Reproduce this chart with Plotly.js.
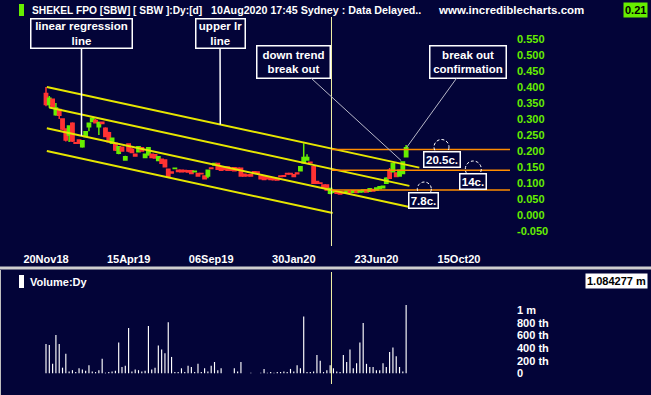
<!DOCTYPE html>
<html><head><meta charset="utf-8">
<script src="https://cdn.plot.ly/plotly-3.0.1.min.js"></script>
<style>html,body{margin:0;padding:0;background:#030438;}#chart{width:651px;height:395px;}</style>
</head><body><div id="chart"></div>
<script>
// ---- data ----
const dateTicks = [0, 100, 200, 300, 400, 500];
const dateLabels = ["20Nov18", "15Apr19", "06Sep19", "30Jan20", "23Jun20", "15Oct20"];
const priceTicks = [-0.05, 0, 0.05, 0.1, 0.15, 0.2, 0.25, 0.3, 0.35, 0.4, 0.45, 0.5, 0.55];
const volTicks = [0, 200000, 400000, 600000, 800000, 1000000];
const volLabels = ["0", "200 th", "400 th", "600 th", "800 th", "1 m"];

const openP = [0.380,0.345,0.362,0.313,0.330,0.300,0.269,0.250,0.287,0.226,
0.234,0.213,0.245,0.276,0.292,0.295,0.276,0.290,0.271,0.257,
0.224,0.224,0.193,0.212,0.172,0.222,0.205,0.190,0.198,0.210,
0.180,0.188,0.190,0.188,0.170,0.174,0.172,0.143,0.134,0.145,
0.140,0.140,0.139,0.138,0.138,0.135,0.130,0.130,0.122,0.122,
0.147,0.156,0.161,0.151,0.148,0.150,0.146,0.148,0.146,0.146,
0.127,0.125,0.126,0.135,0.134,0.122,0.120,0.118,0.116,0.115,
0.114,0.122,0.123,0.130,0.130,0.126,0.131,0.138,0.163,0.172,
0.165,0.151,0.105,0.100,0.094,0.094,0.068,0.071,0.073,0.072,
0.072,0.070,0.074,0.071,0.075,0.072,0.073,0.078,0.074,0.080,
0.078,0.083,0.085,0.099,0.140,0.135,0.131,0.122,0.130,0.182];
const highP = [0.400,0.372,0.364,0.350,0.332,0.302,0.270,0.280,0.290,0.227,
0.236,0.234,0.262,0.289,0.305,0.300,0.292,0.292,0.274,0.260,
0.242,0.226,0.215,0.214,0.185,0.224,0.210,0.192,0.215,0.212,
0.192,0.212,0.192,0.190,0.184,0.176,0.174,0.145,0.135,0.147,
0.141,0.141,0.140,0.139,0.139,0.138,0.131,0.131,0.123,0.142,
0.148,0.163,0.163,0.153,0.150,0.151,0.148,0.149,0.147,0.147,
0.128,0.126,0.127,0.136,0.135,0.123,0.121,0.119,0.117,0.116,
0.115,0.123,0.124,0.131,0.131,0.127,0.132,0.153,0.224,0.190,
0.166,0.153,0.106,0.101,0.095,0.095,0.085,0.075,0.074,0.073,
0.073,0.075,0.075,0.077,0.076,0.077,0.079,0.079,0.083,0.081,
0.085,0.089,0.092,0.118,0.147,0.163,0.133,0.142,0.168,0.219];
const lowP = [0.340,0.335,0.336,0.310,0.300,0.265,0.230,0.228,0.228,0.222,
0.222,0.210,0.244,0.262,0.290,0.286,0.250,0.284,0.243,0.227,
0.222,0.200,0.190,0.198,0.170,0.196,0.193,0.182,0.196,0.198,
0.178,0.185,0.178,0.176,0.168,0.160,0.150,0.118,0.130,0.144,
0.135,0.134,0.134,0.133,0.129,0.134,0.121,0.128,0.112,0.115,
0.144,0.155,0.142,0.138,0.141,0.139,0.139,0.137,0.140,0.121,
0.121,0.122,0.121,0.132,0.129,0.112,0.110,0.112,0.110,0.109,
0.108,0.119,0.120,0.127,0.127,0.119,0.128,0.136,0.160,0.170,
0.162,0.097,0.098,0.098,0.086,0.076,0.065,0.070,0.067,0.065,
0.068,0.069,0.069,0.070,0.069,0.071,0.072,0.071,0.073,0.074,
0.077,0.082,0.083,0.097,0.113,0.133,0.119,0.121,0.128,0.180];
const closeP = [0.345,0.365,0.338,0.334,0.312,0.269,0.234,0.278,0.231,0.224,
0.225,0.232,0.260,0.287,0.302,0.288,0.288,0.286,0.245,0.229,
0.240,0.203,0.213,0.200,0.182,0.200,0.195,0.184,0.213,0.200,
0.190,0.210,0.180,0.178,0.182,0.162,0.151,0.120,0.131,0.146,
0.136,0.135,0.136,0.134,0.130,0.137,0.122,0.129,0.113,0.140,
0.145,0.161,0.143,0.140,0.142,0.140,0.140,0.138,0.141,0.122,
0.122,0.123,0.122,0.133,0.130,0.113,0.111,0.113,0.111,0.110,
0.109,0.120,0.121,0.128,0.128,0.120,0.129,0.151,0.180,0.180,
0.163,0.099,0.099,0.099,0.087,0.078,0.083,0.074,0.068,0.066,
0.069,0.074,0.070,0.076,0.070,0.076,0.078,0.072,0.082,0.075,
0.084,0.088,0.090,0.115,0.115,0.161,0.120,0.140,0.166,0.210];
const volume = [465000,450000,150000,610000,465000,90000,310000,30000,50000,20000,
80000,60000,40000,130000,30000,20000,50000,230000,10000,20000,
30000,40000,490000,100000,120000,720000,30000,60000,50000,30000,
40000,750000,60000,90000,440000,380000,320000,810000,260000,20000,
20000,80000,20000,120000,100000,20000,150000,20000,80000,30000,
120000,180000,50000,80000,0,0,0,80000,30000,180000,
0,0,10000,0,0,10000,70000,10000,20000,10000,
20000,20000,30000,20000,70000,30000,130000,80000,900000,20000,
20000,30000,290000,200000,20000,50000,130000,80000,30000,20000,
290000,180000,380000,80000,160000,490000,800000,150000,100000,100000,
50000,50000,160000,100000,340000,410000,270000,100000,30000,1084277];
const maxVolume = "1.084277 m";

// regression channel (bar index, price)
const upperLrX = [1, 452], upperLrY = [0.400, 0.148];
const channelX = [4, 440], channelY = [0.336, 0.091];
const centerLrX = [1, 440], centerLrY = [0.271, 0.025];
const lowerLrX = [1, 347], lowerLrY = [0.200, 0.006];

const levels = [0.205, 0.14, 0.078];
const levelLabels = ["20.5c.", "14c.", "7.8c."];
const cursorBar = 345.6;

// ---- layout helpers ----
const W = 651, H = 395;
const X = px => px / W;
const Y = py => 1 - py / H;
const bx = px => (px - 46) / 0.826;     // pixel -> bar index (for label placement)
const bars = openP.map((_, i) => i * 4);
const FONT = 'Liberation Sans, Arial, sans-serif';
const GREEN = '#66ee00', RED = '#ff3333', BG = '#030438';
const xMin = bx(0), xMax = bx(510);

const lineAt = (xs, ys, b) => ys[0] + (ys[1] - ys[0]) * (b - xs[0]) / (xs[1] - xs[0]);

const traces = [
  {type: 'candlestick', x: bars, open: openP, high: highP, low: lowP, close: closeP,
   xaxis: 'x', yaxis: 'y', whiskerwidth: 0,
   increasing: {line: {color: GREEN, width: 1.5}, fillcolor: GREEN},
   decreasing: {line: {color: RED, width: 1.5}, fillcolor: RED},
   hoverinfo: 'skip', showlegend: false},
  {type: 'bar', x: bars, y: volume, xaxis: 'x2', yaxis: 'y2', width: 1.4,
   marker: {color: '#ffffff', line: {width: 0}}, hoverinfo: 'skip', showlegend: false}
];
[[upperLrX, upperLrY], [channelX, channelY], [centerLrX, centerLrY], [lowerLrX, lowerLrY]].forEach(([xs, ys]) => {
  traces.push({type: 'scatter', mode: 'lines', x: xs, y: ys, xaxis: 'x', yaxis: 'y',
    line: {color: '#e6e600', width: 2}, hoverinfo: 'skip', showlegend: false});
});

const shapes = [
  {type: 'rect', xref: 'paper', yref: 'paper', x0: 0, x1: 1, y0: Y(269.5), y1: Y(266.5), fillcolor: '#cfcfcf', line: {width: 0}},
  {type: 'line', xref: 'paper', yref: 'paper', x0: X(0.5), x1: X(0.5), y0: 0, y1: Y(270), line: {color: '#bfbfbf', width: 1}},
  {type: 'rect', xref: 'paper', yref: 'paper', x0: X(19), x1: X(24), y0: Y(16), y1: Y(4), fillcolor: GREEN, line: {width: 0}},
  {type: 'rect', xref: 'paper', yref: 'paper', x0: X(19), x1: X(24), y0: Y(288), y1: Y(275), fillcolor: '#ffffff', line: {width: 0}},
  {type: 'line', xref: 'x', yref: 'paper', x0: cursorBar, x1: cursorBar, y0: Y(246), y1: Y(17), line: {color: '#f5f5a8', width: 1}},
  {type: 'line', xref: 'x2', yref: 'paper', x0: cursorBar, x1: cursorBar, y0: Y(384), y1: Y(272), line: {color: '#f5f5a8', width: 1}}
];
levels.forEach(v => shapes.push({type: 'line', xref: 'x', yref: 'y', x0: cursorBar, x1: xMax, y0: v, y1: v,
  line: {color: '#ff8c00', width: 1.5}}));

const lvlBox = [{cx: 442, cy: 159.5, w: 38, arc: [441.5, 147, 7.5]},
                {cx: 473, cy: 181.5, w: 28, arc: [473.3, 169, 8]},
                {cx: 423.5, cy: 200.5, w: 31, arc: [424.3, 189, 7]}];
lvlBox.forEach(b => {
  const [ax, ay, r] = b.arc;
  shapes.push({type: 'circle', xref: 'x', yref: 'y', xsizemode: 'pixel', ysizemode: 'pixel',
    xanchor: bx(ax), yanchor: (215 - ay) / 320, x0: -r, x1: r, y0: -r, y1: r,
    line: {color: '#ffffff', width: 1, dash: '3px,2px'}});
});

const boxFont = {family: FONT, size: 11.5, color: '#ffffff', weight: 'bold'};
const hdrFont = {family: FONT, size: 11, color: '#ffffff', weight: 'bold'};
const annotations = [];
function callout(text, bar, price, cx, cy, w, h, col, aw) {
  const px = 46 + 0.826 * bar, py = 215 - price * 320;
  annotations.push({xref: 'x', yref: 'y', x: bar, y: price, ax: cx - px, ay: cy - py,
    text: text, showarrow: true, arrowhead: 0, arrowwidth: aw, arrowcolor: col, standoff: 0,
    font: boxFont, bgcolor: BG, bordercolor: '#ffffff', borderwidth: 1.5, borderpad: 0,
    width: w, height: h, align: 'center', valign: 'middle'});
}
callout('linear regression<br>line', 43, lineAt(centerLrX, centerLrY, 43), 81.5, 33.5, 100, 28, '#ffffff', 1.5);
callout('upper lr<br>line', 211, lineAt(upperLrX, upperLrY, 211), 220, 33.5, 48, 28, '#ffffff', 1.5);
callout('down trend<br>break out', 430, 0.17, 293.5, 62, 72, 31, '#b8b8c8', 1);
callout('break out<br>confirmation', 436.7, 0.2115, 468.3, 62, 75, 31, '#b8b8c8', 1);

levelLabels.forEach((t, i) => {
  const b = lvlBox[i];
  annotations.push({xref: 'x', yref: 'y', x: bx(b.cx), y: (215 - b.cy) / 320, text: t, showarrow: false,
    xanchor: 'center', yanchor: 'middle', font: boxFont, bgcolor: BG, bordercolor: '#ffffff',
    borderwidth: 1.5, borderpad: 0, width: b.w - 3, height: 14});
});

annotations.push(
  {xref: 'paper', yref: 'paper', x: X(30), y: Y(10), xanchor: 'left', yanchor: 'middle', showarrow: false,
   text: 'SHEKEL FPO [SBW] [ SBW ]:Dy:[d]', font: {family: FONT, size: 10.2, color: '#ffffff', weight: 'bold'}},
  {xref: 'paper', yref: 'paper', x: X(209), y: Y(10), xanchor: 'left', yanchor: 'middle', showarrow: false,
   text: '10Aug2020 17:45 Sydney : Data Delayed..', font: {family: FONT, size: 10.7, color: '#ffffff', weight: 'bold'}},
  {xref: 'paper', yref: 'paper', x: X(436), y: Y(10), xanchor: 'left', yanchor: 'middle', showarrow: false,
   text: 'www.incrediblecharts.com', font: {family: FONT, size: 11.5, color: '#ffffff', weight: 'bold'}},
  {xref: 'paper', yref: 'paper', x: X(648), y: Y(9.5), xanchor: 'right', yanchor: 'middle', showarrow: false,
   text: closeP[closeP.length - 1].toFixed(2), font: {family: FONT, size: 11, color: '#000000', weight: 'bold'},
   bgcolor: GREEN, borderpad: 1},
  {xref: 'paper', yref: 'paper', x: X(28), y: Y(281.5), xanchor: 'left', yanchor: 'middle', showarrow: false,
   text: 'Volume:Dy', font: hdrFont},
  {xref: 'paper', yref: 'paper', x: X(648), y: Y(281), xanchor: 'right', yanchor: 'middle', showarrow: false,
   text: maxVolume, font: {family: FONT, size: 11, color: '#000000', weight: 'bold'},
   bgcolor: '#ffffff', borderpad: 1}
);

const layout = {
  width: W, height: H, margin: {l: 0, r: 0, t: 0, b: 0},
  paper_bgcolor: BG, plot_bgcolor: BG, showlegend: false,
  boxgap: 0, boxgroupgap: 0,
  xaxis: {domain: [0, X(510)], anchor: 'y', range: [xMin, xMax], tickvals: dateTicks, ticktext: dateLabels,
    showgrid: false, zeroline: false, showline: false, ticks: '', rangeslider: {visible: false},
    tickfont: {family: FONT, size: 11, color: '#ffffff', weight: 'bold'}, ticklabelstandoff: 3},
  yaxis: {domain: [Y(248), Y(20)], anchor: 'x', side: 'right', range: [-0.103125, 0.609375],
    tickvals: priceTicks, ticktext: priceTicks.map(v => v.toFixed(3)),
    showgrid: false, zeroline: false, showline: false, ticks: '', ticklabelstandoff: 6,
    tickfont: {family: FONT, size: 11, color: GREEN, weight: 'bold'}},
  xaxis2: {domain: [0, X(510)], anchor: 'y2', matches: 'x', range: [xMin, xMax], showticklabels: false,
    showgrid: false, zeroline: false, showline: false, ticks: ''},
  yaxis2: {domain: [0, Y(272)], anchor: 'x2', side: 'right', range: [-344000, 1608000],
    tickvals: volTicks, ticktext: volLabels, showgrid: false, zeroline: false, showline: false, ticks: '',
    ticklabelstandoff: 6, tickfont: {family: FONT, size: 11, color: '#ffffff', weight: 'bold'}},
  shapes: shapes, annotations: annotations
};
Plotly.newPlot('chart', traces, layout, {staticPlot: true, displayModeBar: false});
</script></body></html>
